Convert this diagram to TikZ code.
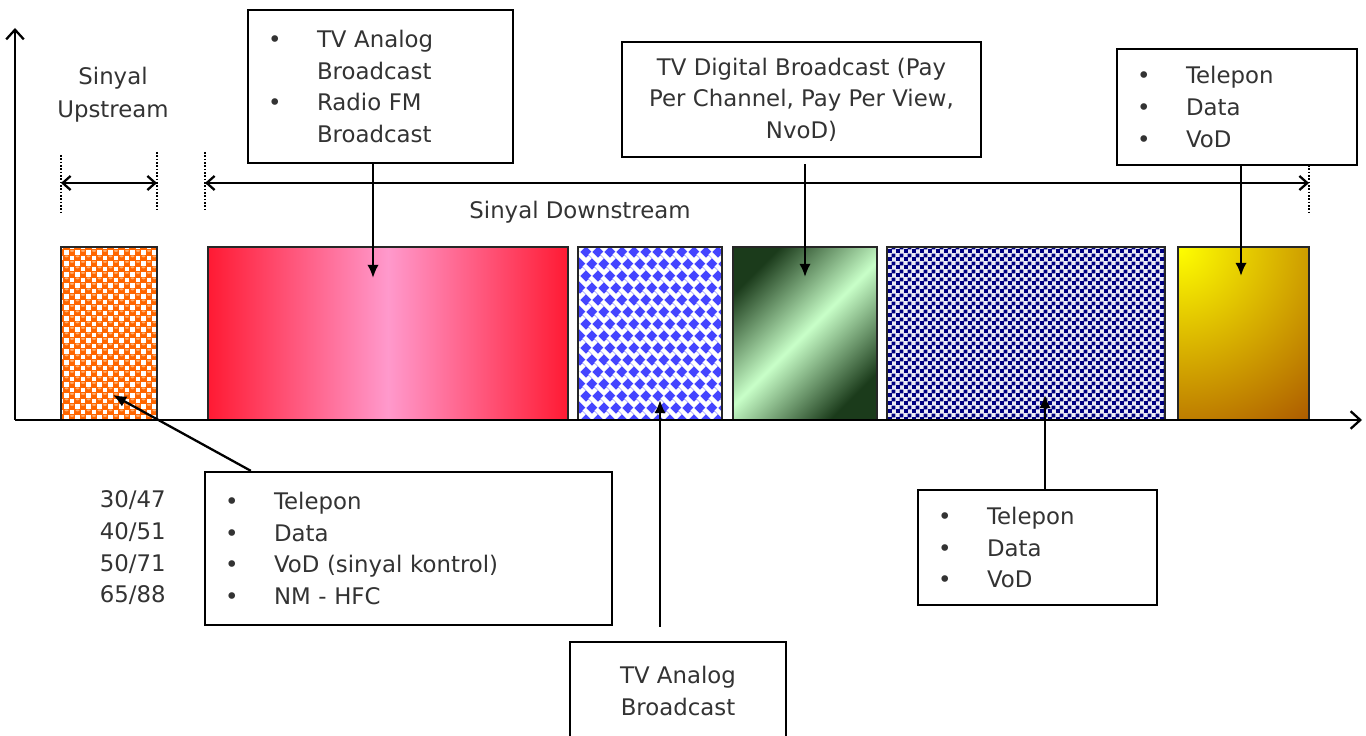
\documentclass[tikz,border=0pt]{standalone}
\usepackage{fontspec}
\setmainfont{DejaVu Sans}
\usetikzlibrary{positioning, calc, arrows.meta, patterns.meta}

\definecolor{txtgray}{HTML}{333333}
\definecolor{upor}{HTML}{FF6600}
\definecolor{uplight}{HTML}{FFB070}
\definecolor{redend}{HTML}{FF1A33}
\definecolor{redmid}{HTML}{FF99CC}
\definecolor{weaveblue}{HTML}{4444FF}
\definecolor{grdark}{HTML}{1B3B1B}
\definecolor{grlight}{HTML}{C8FFC8}
\definecolor{chknavy}{HTML}{000080}
\definecolor{goldy}{HTML}{FFFF00}
\definecolor{goldbr}{HTML}{993300}

\newcommand{\itm}[1]{\makebox[0.98cm][l]{\textbullet}#1}
\newcommand{\itmgap}{\hspace*{0.98cm}}

\tikzdeclarepattern{
    name=navychk,
    type=uncolored,
    bounding box={(0pt,0pt) and (4.6pt,4.6pt)},
    tile size={(4.6pt,4.6pt)},
    code={
        \fill (0pt,0pt) rectangle (2.5pt,2.5pt);
        \fill (2.3pt,2.3pt) rectangle (4.6pt,4.6pt);
    }
}

\tikzset{
    box/.style = {rectangle, draw=black, line width=1.3pt, fill=white, text=txtgray, inner xsep=0.4cm, inner ysep=0pt, align=left},
    cbox/.style = {box, align=center, inner xsep=0pt},
    lbl/.style = {text=txtgray, inner sep=0pt},
}

\begin{document}
\begin{tikzpicture}[
        x=0.02cm, y=-0.02cm,
        font=\fontsize{13}{18}\selectfont,
        blk/.style={
            rectangle,
            draw=black!85,
            line width=0.8pt,
            minimum height=3.46cm,
            inner sep=0pt
        },
        axis/.style={
            ->,
            >={Straight Barb[length=5.5pt,width=10pt]},
            line width=1.3pt
        },
        dim/.style={
            line width=1.3pt,
            >={Straight Barb[length=4.5pt,width=8pt]}
        },
        guide/.style={densely dotted, line width=0.9pt},
        callout/.style={
            ->,
            >={Latex[length=7.5pt,width=6.5pt]},
            line width=1.3pt
        }
    ]
        \useasboundingbox (0,0) rectangle (1366,736);

        % frequency blocks
        \begin{scope}
            \clip (61,247) rectangle (157,420);
            \fill[upor] (61,247) rectangle (157,420);
            \foreach \r in {0,...,31}
                \foreach \c in {0,...,9} {
                    \pgfmathsetmacro{\xx}{61+11*\c+5.5*mod(\r,2)}
                    \pgfmathsetmacro{\yy}{247+5.5*\r}
                    \fill[white] (\xx-2.2,\yy-2.2) rectangle (\xx+2.2,\yy+2.2);
                    \fill[uplight] (\xx+5.5,\yy-1.6) ellipse (2 and 0.9);
                }
        \end{scope}
        \node[blk, minimum width=1.92cm] (upBlk) at (109,333.5) {};

        \node[blk, minimum width=7.2cm, left color=redend, right color=redend, middle color=redmid] (redBlk) at (388,333.5) {};

        \begin{scope}
            \clip (578,247) rectangle (722,420);
            \fill[weaveblue] (578,247) rectangle (722,420);
            \foreach \r in {0,...,15}
                \foreach \c in {0,...,13} {
                    \pgfmathsetmacro{\xx}{572+12*\c+6*mod(\r,2)}
                    \pgfmathsetmacro{\yy}{241+12*\r}
                    \draw[white, line width=2.6pt] (\xx,\yy) -- ++(8,8) -- ++(4,-4);
                }
        \end{scope}
        \node[blk, minimum width=2.88cm] (wvBlk) at (650,333.5) {};

        \node[blk, minimum width=2.88cm, top color=grdark, bottom color=grdark, middle color=grlight, shading angle=45] (grnBlk) at (805,333.5) {};

        \fill[chknavy!8] (887,247) rectangle (1165,420);
        \fill[pattern=navychk, pattern color=chknavy] (887,247) rectangle (1165,420);
        \node[blk, minimum width=5.56cm] (chkBlk) at (1026,333.5) {};

        \begin{scope}
            \clip (1178,247) rectangle (1309,420);
            \shade[inner color=goldy, outer color=goldbr] (1178,247) circle (270);
        \end{scope}
        \node[blk, minimum width=2.62cm] (goldBlk) at (1243.5,333.5) {};

        % axes
        \coordinate (origin) at (15,420);
        \coordinate (yEnd) at (15,28);
        \coordinate (xEnd) at (1362,420);
        \draw[axis] (origin) -- (yEnd);
        \draw[axis] (origin) -- (xEnd);

        % band limits
        \draw[guide] (61,155) -- (61,212);
        \draw[guide] (157,152) -- (157,210);
        \draw[guide] (205,152) -- (205,210);
        \draw[guide] (1309,165) -- (1309,212);

        \coordinate (upL) at (61,183);
        \coordinate (upR) at (157,183);
        \coordinate (dnL) at (205,183);
        \coordinate (dnA) at (445,183);
        \coordinate (dnB) at (785,183);
        \coordinate (dnR) at (1309,183);
        \draw[dim, <->] (upL) -- (upR);
        \draw[dim, <-] (dnL) -- (dnA);
        \draw[line width=0.6pt] (dnA) -- (dnB);
        \draw[dim, ->] (dnB) -- (dnR);

        \node[lbl, align=center] (upLbl) at (113,95) {Sinyal\\[1pt]Upstream};
        \node[lbl] (dnLbl) at (580,212) {Sinyal Downstream};
        \node[lbl, align=right, anchor=east] (freq) at (166,548) {30/47\\40/51\\50/71\\65/88};

        % callout boxes
        \node[box, text width=4.5cm, minimum height=3.06cm] (tvAnalog) at (380.5,86.5) {\itm{TV Analog}\\\itmgap Broadcast\\\itm{Radio FM}\\\itmgap Broadcast};
        \node[cbox, minimum width=7.18cm, minimum height=2.3cm] (tvDigital) at (801.5,99.5) {TV Digital Broadcast (Pay\\Per Channel, Pay Per View,\\NvoD)};
        \node[box, text width=4.0cm, minimum height=2.32cm] (svcTop) at (1237,107) {\itm{Telepon}\\\itm{Data}\\\itm{VoD}};
        \node[box, text width=7.34cm, minimum height=3.06cm] (svcUp) at (408.5,548.5) {\itm{Telepon}\\\itm{Data}\\\itm{VoD (sinyal kontrol)}\\\itm{NM - HFC}};
        \node[box, text width=3.98cm, minimum height=2.3cm] (svcBot) at (1037.5,547.5) {\itm{Telepon}\\\itm{Data}\\\itm{VoD}};
        \node[cbox, minimum width=4.32cm, minimum height=1.96cm] (tvAnalogB) at (678,691) {TV Analog\\Broadcast};

        % callout arrows
        \coordinate (tipRed) at (373,278);
        \coordinate (tipGrn) at (805,277);
        \coordinate (tipGold) at (1241,276);
        \coordinate (tipUp) at (113,395);
        \coordinate (tipChk) at (1045,395);
        \coordinate (tipWv) at (660,400);

        \draw[callout] (tvAnalog.south -| tipRed) -- (tipRed);
        \draw[callout] ($(tvDigital.south -| tipGrn)+(0,6)$) -- (tipGrn);
        \draw[callout] (svcTop.south -| tipGold) -- (tipGold);
        \draw[callout] ([xshift=0.94cm]svcUp.north west) -- (tipUp);
        \draw[callout] (svcBot.north -| tipChk) -- (tipChk);
        \draw[callout] ($(tvAnalogB.north -| tipWv)+(0,-14)$) -- (tipWv);
    \end{tikzpicture}
\end{document}
